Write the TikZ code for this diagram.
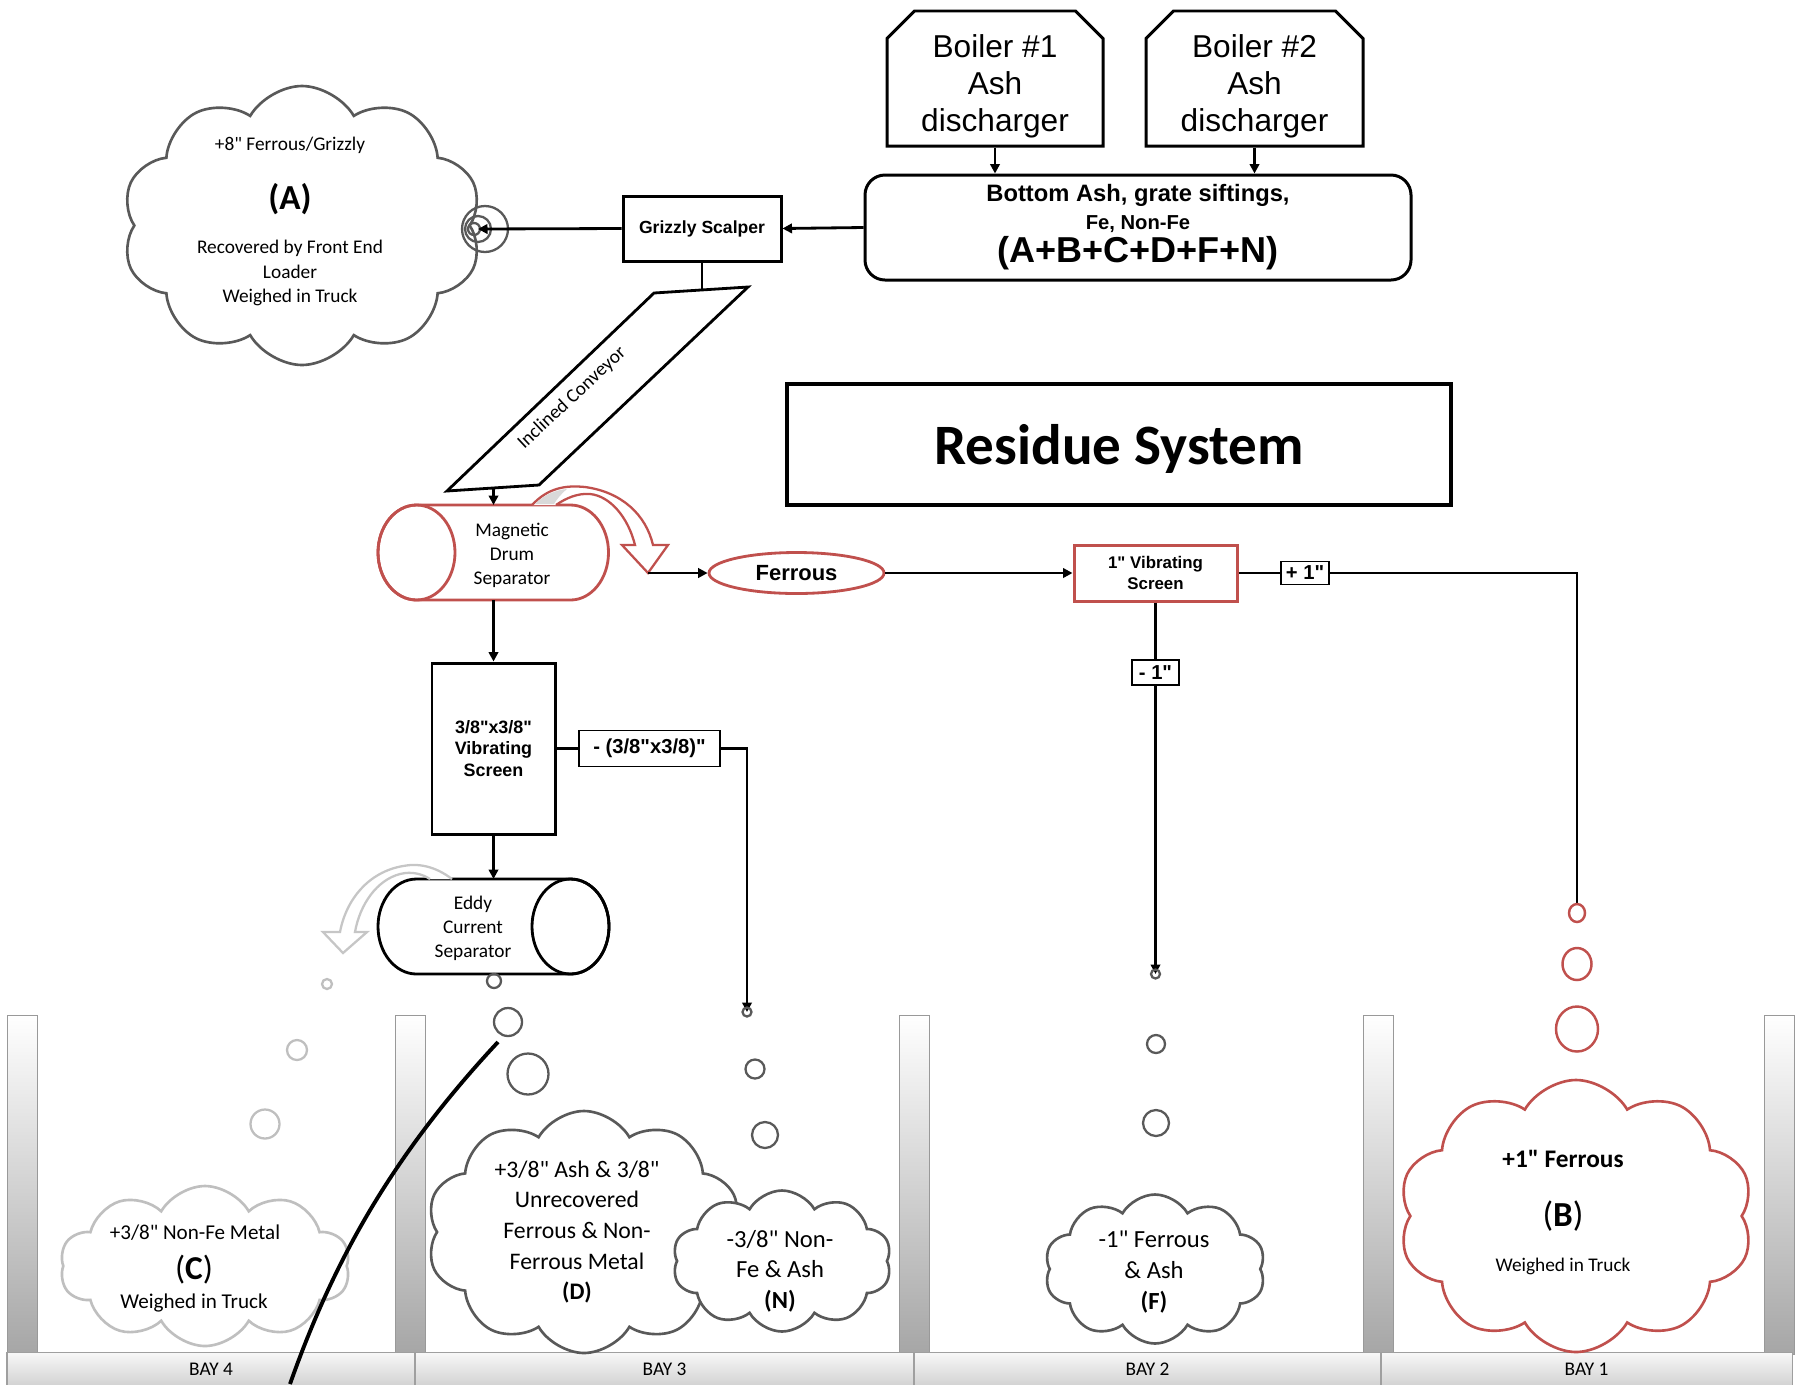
\documentclass[tikz,border=0pt]{standalone}
\usepackage{fontspec}
\setmainfont{Carlito}[Ligatures=TeXOff]
\newfontfamily\arialsans{Liberation Sans}[Ligatures=TeXOff]
\usetikzlibrary{arrows.meta, shapes.misc, shapes.symbols, shapes.geometric}
\definecolor{ashred}{HTML}{C0504D}
\definecolor{cldgray}{HTML}{595959}
\definecolor{ltgray}{HTML}{BFBFBF}
\definecolor{postgray}{HTML}{A6A6A6}

\tikzset{
  flowbox/.style={draw, line width=1.7pt, fill=white, inner sep=0pt, align=center},
  boiler/.style={flowbox, chamfered rectangle, chamfered rectangle corners={north west,north east},
    chamfered rectangle angle=45, chamfered rectangle xsep=4.4mm, minimum height=27mm,
    font=\arialsans\fontsize{18}{21}\selectfont},
  sizelbl/.style={draw, line width=0.8pt, fill=white, inner xsep=1.5pt, inner ysep=0pt,
    font=\arialsans\bfseries\fontsize{11.5}{13}\selectfont},
  flow/.style={line width=1.6pt, -{Triangle[length=1.9mm, width=1.9mm]}},
  feed/.style={line width=1.6pt},
  cld/.style={cloud, cloud puffs=10, cloud puff arc=120, cloud ignores aspect,
    draw=cldgray, line width=1.5pt, fill=white, inner sep=0pt},
  cldtxt/.style={align=center, inner sep=0pt},
  drop/.style={cldgray, line width=1.3pt},
  post/.style={top color=white, bottom color=postgray, draw=gray!80, line width=0.5pt},
  floorseg/.style={top color=gray!6, bottom color=gray!35, draw=gray!75, line width=0.6pt,
    inner sep=0pt, minimum height=6.6mm, font=\fontsize{11}{13}\selectfont}
}

\begin{document}
\begin{tikzpicture}[x=0.2mm, y=-0.2mm]
\useasboundingbox (0,0) rectangle (1801,1384);

% --- Bays ---
\foreach \postx in {7,395,899,1363,1764}
  \shade[post] (\postx,1015) rectangle ++(30,339);
\node[floorseg, minimum width=81.6mm] (bay4) at (211,1369) {BAY 4};
\node[floorseg, minimum width=99.8mm] (bay3) at (664.5,1369) {BAY 3};
\node[floorseg, minimum width=93.4mm] (bay2) at (1147.5,1369) {BAY 2};
\node[floorseg, minimum width=82.2mm] (bay1) at (1586.5,1369) {BAY 1};

% --- Boilers and bottom ash ---
\node[boiler, minimum width=43.2mm] (boil1) at (995,78.5) {\rule{0pt}{22pt}Boiler \#1\\Ash\\discharger};
\node[boiler, minimum width=43.4mm] (boil2) at (1254.5,78.5) {\rule{0pt}{22pt}Boiler \#2\\Ash\\discharger};

\node[flowbox, rounded corners=4mm, minimum width=109.2mm, minimum height=21mm,
  font=\arialsans\bfseries\fontsize{13.5}{15.5}\selectfont] (ash) at (1138,227.5)
  {Bottom Ash, grate siftings,\\{\fontsize{11.5}{13}\selectfont Fe, Non-Fe}\\[1.5pt]{\fontsize{20.5}{22}\selectfont (A+B+C+D+F+N)}};

\draw[flow] (boil1.south) -- (boil1.south |- ash.north);
\draw[flow] (boil2.south) -- (boil2.south |- ash.north);

% --- Grizzly scalper and oversize pile ---
\node[flowbox, minimum width=31.6mm, minimum height=13mm,
  font=\arialsans\bfseries\fontsize{10}{12}\selectfont] (grizzly) at (702,228.5) {Grizzly Scalper};
\draw[flow] (ash.west) -- (grizzly.east);

\node[cld, minimum width=72mm, minimum height=55.8mm] (cldA) at (302,225.5) {};
\node[cldtxt, font=\fontsize{11}{13}\selectfont] (txtA1) at (290,145) {+8" Ferrous/Grizzly};
\node[cldtxt, font=\bfseries\fontsize{20}{24}\selectfont] (txtA2) at (290,199) {(A)};
\node[cldtxt, font=\fontsize{11}{13.7}\selectfont] (txtA3) at (290,273) {Recovered by Front End\\Loader\\Weighed in Truck};

% spiral where the scalper drops
\draw[cldgray, line width=1.3pt] (485,229) circle (23) (478,229) circle (13) (474,229) circle (6);
\coordinate (feedA) at (478,229);
\draw[flow] (grizzly.west) -- (feedA);

% --- Inclined conveyor ---
\draw[line width=1.6pt, fill=white] (654,293) -- (748,287) -- (539,485) -- (447,491) -- cycle;
\node[rotate=43, font=\fontsize{11}{13}\selectfont] (conv) at (572,398) {Inclined Conveyor};
\coordinate (convIn) at (702,290);
\coordinate (convOut) at (493.5,489);
\draw[feed] (grizzly.south) -- (convIn);

% --- Magnetic drum ---
\draw[ashred, line width=1.6pt, fill=white] (416.5,505) -- (570.5,505)
  arc[start angle=-90, end angle=90, x radius=38, y radius=47.5] -- (416.5,600)
  arc[start angle=90, end angle=270, x radius=38.5, y radius=47.5] -- cycle;
\draw[ashred, line width=1.6pt] (416.5,552.5) ellipse[x radius=38.5, y radius=47.5];
\node[cldtxt, font=\fontsize{11}{13.7}\selectfont] (drum) at (512,555) {Magnetic\\Drum\\Separator};
\coordinate (drumIn) at (493.5,505);
\coordinate (drumOut) at (493.5,600);
\draw[flow] (convOut) -- (drumIn);

% curved block arrow off the drum
\draw[ashred, line width=1.3pt, fill=white] (532,505) .. controls (548,488) and (565,485) .. (585,487)
  .. controls (622,492) and (646,515) .. (653,545) -- (668,545) -- (648,573) -- (622,545) -- (635,545)
  .. controls (628,517) and (610,496) .. (590,494) .. controls (578,493) and (566,498) .. (556,505);
\fill[gray!30] (535,504) .. controls (545,494) and (556,490) .. (567,489)
  .. controls (561,494) and (557,499) .. (554,504) -- cycle;
\coordinate (magOut) at (648,573);

% --- Ferrous line ---
\node[ellipse, draw=ashred, line width=1.6pt, fill=white, inner sep=0pt, minimum width=35mm, minimum height=8.2mm,
  font=\arialsans\bfseries\fontsize{12.5}{14}\selectfont] (ferrous) at (796.5,573) {Ferrous};
\draw[flow] (magOut) -- (ferrous.west);

\node[flowbox, draw=ashred, minimum width=32.6mm, minimum height=11.2mm,
  font=\arialsans\bfseries\fontsize{9.6}{12}\selectfont] (scr1) at (1155.5,573) {1" Vibrating\\Screen};
\draw[flow] (ferrous.east) -- (scr1.west);

\node[sizelbl, minimum width=9.6mm, minimum height=4.6mm] (plus1) at (1305,573) {+ 1"};
\coordinate (dropB) at (1577,904);
\draw[feed] (scr1.east) -- (plus1.west);
\draw[feed] (plus1.east) -| (dropB);
\draw[ashred, line width=1.4pt] (1577,913) ellipse[x radius=8, y radius=9]
  (1577,964) ellipse[x radius=14.5, y radius=16] (1577,1029) ellipse[x radius=21, y radius=22.5];

\node[sizelbl, minimum width=9.4mm, minimum height=5mm] (minus1) at (1155.5,672.5) {- 1"};
\coordinate (dropF) at (1155.5,974);
\draw[feed] (scr1.south) -- (minus1.north);
\draw[flow] (minus1.south) -- (dropF);
\draw[drop] (1155.5,974) circle (4.5) (1156,1044) circle (9) (1156,1123) circle (13);

% --- 3/8 screen ---
\node[flowbox, minimum width=24.6mm, minimum height=34.2mm,
  font=\arialsans\bfseries\fontsize{10.2}{12}\selectfont] (scr38) at (493.5,748.5) {3/8"x3/8"\\Vibrating\\Screen};
\draw[flow] (drumOut) -- (scr38.north);

\node[sizelbl, minimum width=28.2mm, minimum height=7.2mm] (minus38) at (649.5,748.5) {- (3/8"x3/8)"};
\coordinate (dropN) at (747,1012);
\draw[feed] (scr38.east) -- (minus38.west);
\draw[flow] (minus38.east) -| (dropN);
\draw[drop] (747,1012) circle (4.5) (755,1069) circle (9.5) (765,1135) circle (13);

% --- Eddy current separator ---
\draw[line width=1.6pt, fill=white] (416.5,879) -- (570.5,879)
  arc[start angle=-90, end angle=90, x radius=38.5, y radius=47.5] -- (416.5,974)
  arc[start angle=90, end angle=270, x radius=38.5, y radius=47.5] -- cycle;
\draw[line width=1.6pt] (570.5,926.5) ellipse[x radius=38.5, y radius=47.5];
\node[cldtxt, font=\fontsize{11}{13.7}\selectfont] (eddy) at (473,928) {Eddy\\Current\\Separator};
\coordinate (eddyIn) at (493.5,879);
\draw[flow] (scr38.south) -- (eddyIn);

% curved block arrow thrown to bay 4
\fill[gray!15] (452,879) .. controls (444,872) and (437,869) .. (428,867) -- (418,868)
  .. controls (423,871) and (427,874) .. (430,879) -- cycle;
\draw[gray!45, line width=1.3pt, fill=white] (452,879) .. controls (435,866) and (418,863) .. (403,866)
  .. controls (368,872) and (346,900) .. (340,932) -- (323,932) -- (343,953) -- (367,932) -- (355,932)
  .. controls (360,904) and (377,880) .. (400,874) .. controls (412,871) and (422,874) .. (430,879);

\draw[drop] (494,981) circle (7) (508,1022) circle (14) (528,1074) circle (20.5);
\draw[ltgray, line width=1.3pt] (327,984) circle (5) (297,1050) circle (10) (265,1124) circle (14.5);

% --- Piles ---
\node[cld, draw=ltgray, minimum width=58mm, minimum height=32mm] (cldC) at (205,1266) {};
\node[cldtxt, font=\fontsize{12}{14}\selectfont] (txtC1) at (195,1233) {+3/8" Non-Fe Metal};
\node[cldtxt, font=\fontsize{19}{22}\selectfont] (txtC2) at (194,1270) {(\textbf{C})};
\node[cldtxt, font=\fontsize{12}{14}\selectfont] (txtC3) at (194,1303) {Weighed in Truck};

\node[cld, minimum width=63mm, minimum height=48.4mm] (cldD) at (584,1232) {};
\node[cldtxt, font=\fontsize{13.5}{17.4}\selectfont] (txtD) at (577,1232)
  {+3/8" Ash \& 3/8"\\Unrecovered\\Ferrous \& Non-\\Ferrous Metal\\\textbf{(D)}};

\node[cld, minimum width=43.8mm, minimum height=28.2mm] (cldN) at (782,1261) {};
\node[cldtxt, font=\fontsize{14}{17.4}\selectfont] (txtN) at (780,1271) {-3/8" Non-\\Fe \& Ash\\\textbf{(N)}};

\node[cld, minimum width=44.2mm, minimum height=29.8mm] (cldF) at (1155,1269) {};
\node[cldtxt, font=\fontsize{14}{17.4}\selectfont] (txtF) at (1154,1272) {-1" Ferrous\\\& Ash\\\textbf{(F)}};

\node[cld, draw=ashred, minimum width=71mm, minimum height=54.4mm] (cldB) at (1576,1216) {};
\node[cldtxt, font=\bfseries\fontsize{14.4}{17}\selectfont] (txtB1) at (1563,1159) {+1" Ferrous};
\node[cldtxt, font=\fontsize{20}{24}\selectfont] (txtB2) at (1563,1216) {(\textbf{B})};
\node[cldtxt, font=\fontsize{11}{13}\selectfont] (txtB3) at (1563,1266) {Weighed in Truck};

% chute line across bay 4
\draw[line width=2.2pt] (498,1042) .. controls (385,1163) and (330,1271) .. (290,1384);

% --- Title ---
\node[flowbox, line width=1.8pt, minimum width=132.8mm, minimum height=24.2mm, text depth=0pt,
  font=\bfseries\fontsize{32.5}{36}\selectfont] (title) at (1119,444.5) {Residue System};

\end{tikzpicture}
\end{document}
